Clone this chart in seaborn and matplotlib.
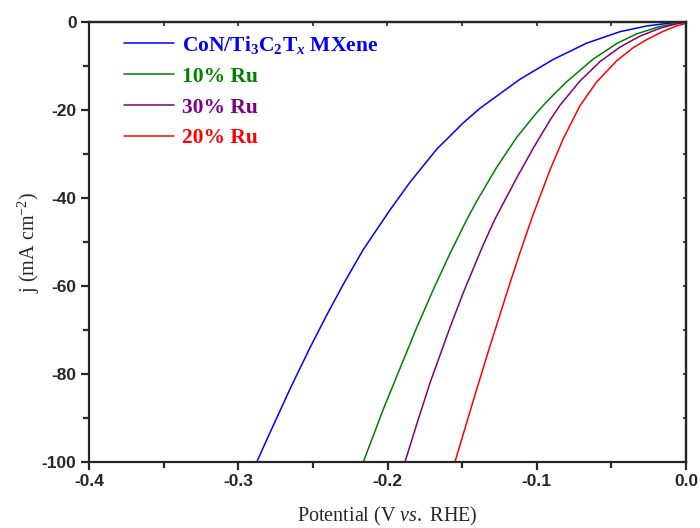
import numpy as np
import pandas as pd
import matplotlib
matplotlib.use("Agg")
import matplotlib.pyplot as plt
import seaborn as sns
from matplotlib.ticker import MultipleLocator

# ---- data ----
blue_v = [-0.2876, -0.2787, -0.2653, -0.2519, -0.2407, -0.2296, -0.2162, -0.1983, -0.1849,
          -0.1670, -0.1492, -0.1380, -0.1112, -0.0889, -0.0665, -0.0442, -0.0263, -0.0107, 0.0]
blue_j = [-100.0, -93.3, -83.4, -74.0, -66.6, -59.6, -51.7, -42.7, -36.4,
          -28.9, -22.9, -19.6, -13.0, -8.5, -4.8, -2.2, -0.9, -0.25, 0.0]

green_v = [-0.2162, -0.2028, -0.1805, -0.1693, -0.1581, -0.1470, -0.1402, -0.1268, -0.1134,
           -0.1000, -0.0922, -0.0800, -0.0621, -0.0464, -0.0331, -0.0174, -0.0060, 0.0]
green_j = [-100.0, -88.0, -69.5, -60.8, -52.6, -45.0, -40.7, -33.0, -26.2,
           -20.6, -17.7, -13.6, -8.4, -4.9, -2.7, -1.0, -0.3, 0.0]

purple_v = [-0.1883, -0.1805, -0.1715, -0.1581, -0.1492, -0.1358, -0.1280, -0.1134, -0.1022,
            -0.0911, -0.0844, -0.0710, -0.0576, -0.0442, -0.0308, -0.0174, -0.0060, 0.0]
purple_j = [-100.0, -91.5, -82.0, -69.4, -61.5, -50.6, -44.8, -35.4, -28.6,
            -22.3, -18.9, -13.4, -9.0, -5.7, -3.2, -1.4, -0.4, 0.0]

red_v = [-0.1548, -0.1425, -0.1313, -0.1179, -0.1112, -0.1030, -0.0911, -0.0822, -0.0710,
         -0.0598, -0.0464, -0.0352, -0.0263, -0.0152, -0.0063, 0.0]
red_j = [-100.0, -86.0, -73.6, -59.3, -52.4, -44.3, -33.6, -26.5, -19.0,
         -13.6, -8.8, -5.8, -4.0, -2.1, -0.9, -0.3]

labels = [r"CoN/Ti$_\mathbf{3}$C$_\mathbf{2}$T$_{\mathbfit{x}}$ MXene", "10% Ru", "30% Ru", "20% Ru"]
colors = ["#0000FF", "#008000", "#800080", "#FF0000"]
xticks = [-0.4, -0.3, -0.2, -0.1, 0.0]
yticks = [0, -20, -40, -60, -80, -100]

frames = []
for lab, v, j in zip(labels, [blue_v, green_v, purple_v, red_v], [blue_j, green_j, purple_j, red_j]):
    frames.append(pd.DataFrame({"v": v, "j": j, "sample": lab}))
df = pd.concat(frames, ignore_index=True)

sns.set_style("ticks")
plt.rcParams["font.family"] = ["Liberation Sans", "DejaVu Sans"]
plt.rcParams["mathtext.fontset"] = "custom"
plt.rcParams["mathtext.rm"] = "Liberation Serif"
plt.rcParams["mathtext.it"] = "Liberation Serif:italic"
plt.rcParams["mathtext.bf"] = "Liberation Serif:bold"
plt.rcParams["mathtext.bfit"] = "Liberation Serif:bold:italic"

fig = plt.figure(figsize=(7.0, 5.28), dpi=100)
ax = fig.add_axes([89/700, 1-462/528, (686-89)/700, (462-22)/528])

sns.lineplot(data=df, x="v", y="j", hue="sample", palette=dict(zip(labels, colors)),
             hue_order=labels, sort=False, estimator=None, linewidth=1.1, ax=ax, legend=False)

ax.set_xlim(-0.4, 0.0)
ax.set_ylim(-100, 0)
ax.set_xticks(xticks)
ax.set_xticklabels([f"{t:.1f}" for t in xticks])
ax.set_yticks(yticks)
ax.set_yticklabels([f"{t:d}" for t in yticks])
ax.xaxis.set_minor_locator(MultipleLocator(0.05))
ax.yaxis.set_minor_locator(MultipleLocator(10))

for s in ax.spines.values():
    s.set_linewidth(1.6)
    s.set_visible(True)
ax.tick_params(axis="both", which="major", direction="out", length=6, width=1.6,
               labelsize=12.5, pad=3)
ax.tick_params(axis="both", which="minor", direction="out", length=4, width=1.6)
for lab in ax.get_xticklabels() + ax.get_yticklabels():
    lab.set_fontweight("bold")

# top and right ticks (inward, unlabeled)
top = ax.secondary_xaxis("top")
top.set_xticks(np.arange(-0.4, 0.001, 0.05))
top.tick_params(direction="in", length=3, width=1.2, labeltop=False)
top.spines["top"].set_linewidth(1.6)
right = ax.secondary_yaxis("right")
right.set_yticks(np.arange(-100, 0.1, 10))
right.tick_params(direction="in", length=2.5, width=1.2, labelright=False)
right.spines["right"].set_linewidth(1.6)

ax.set_xlabel(r"Potential (V $\mathit{vs.}$ RHE)", fontsize=14.5,
              family="Liberation Serif", labelpad=11)
ax.set_ylabel(r"j (mA cm$^{\mathrm{-2}}$)", fontsize=14.5, family="Liberation Serif", labelpad=0)

# legend
handles = [plt.Line2D([], [], color=c, lw=1.1) for c in colors]
leg = ax.legend(handles, labels, loc="upper left", bbox_to_anchor=(0.027, 1.017),
                frameon=False, handlelength=2.3, handletextpad=0.37, labelspacing=0.5,
                prop={"family": "Liberation Serif", "weight": "bold", "size": 15.5})
for t, c in zip(leg.get_texts(), colors):
    t.set_color(c)

fig.savefig("out.png", dpi=100)
